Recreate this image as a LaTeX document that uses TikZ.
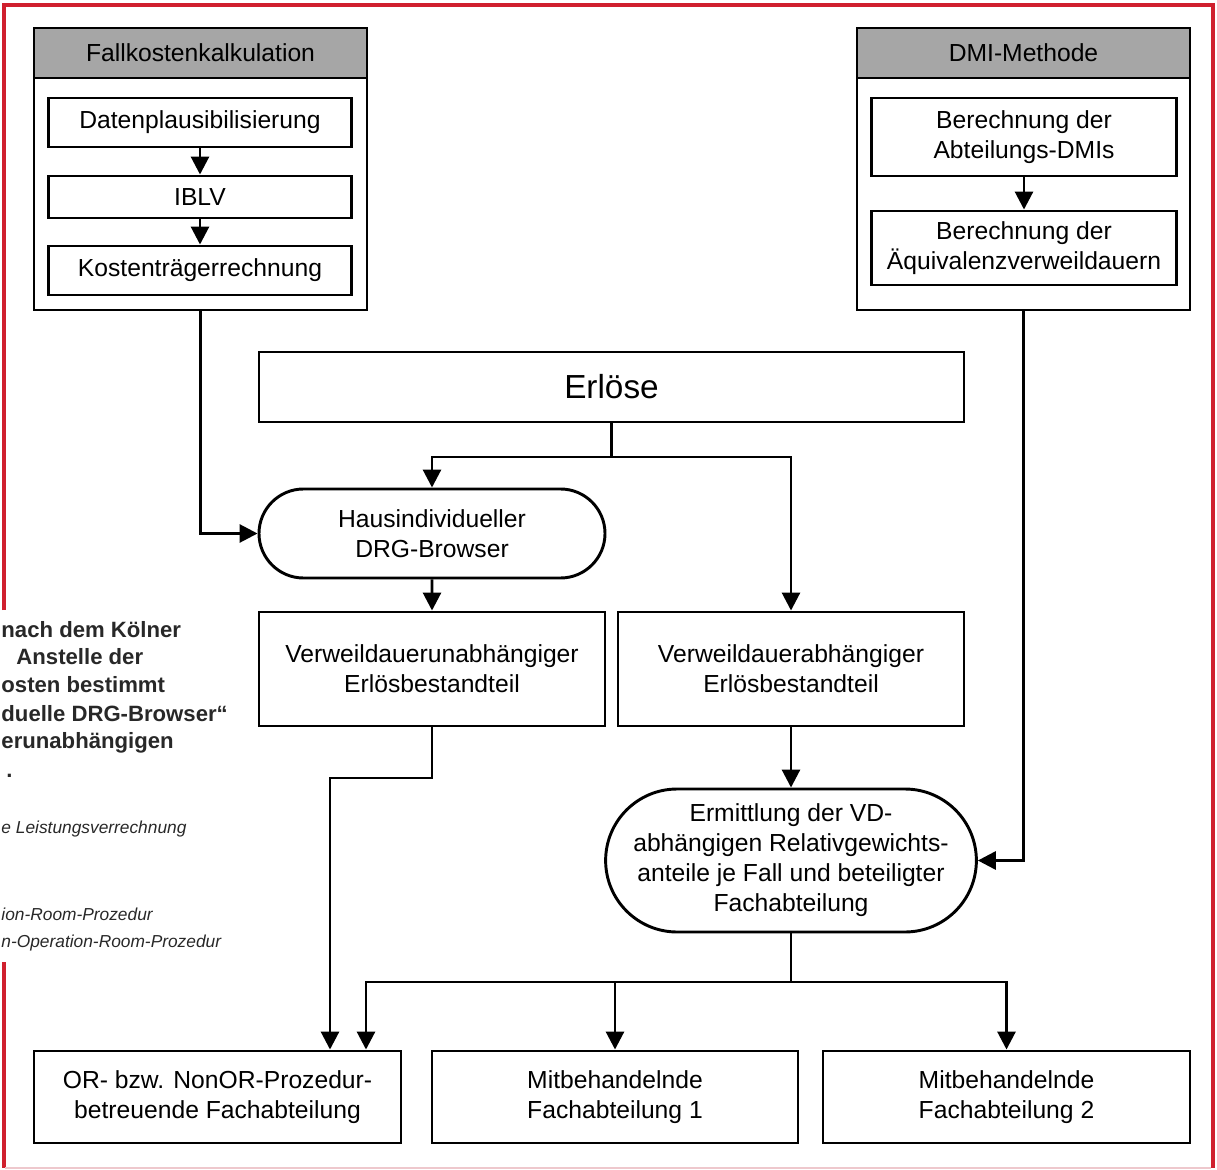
\documentclass[tikz,border=0pt]{standalone}
\usepackage{fontspec}
\setmainfont{Liberation Sans}
\usepackage{tikz}
\usetikzlibrary{arrows.meta, shapes.misc}
\usepackage{xcolor}
\definecolor{framered}{RGB}{208,32,46}
\definecolor{framepink}{RGB}{238,200,205}
\definecolor{headgray}{RGB}{166,166,166}
\definecolor{overtext}{RGB}{40,40,40}

\begin{document}
\begin{tikzpicture}[x=0.75pt,y=0.75pt,yscale=-1,xscale=1,
  line width=2.2pt,
  box/.style={draw, rectangle, inner sep=0pt, align=center, font=\fontsize{18.5}{22.5}\selectfont},
  headbox/.style={box, fill=headgray},
  pill/.style={draw, rounded rectangle, inner sep=0pt, align=center, font=\fontsize{18.5}{22.5}\selectfont},
  arr/.style={-{Triangle[width=13.5pt,length=13.5pt]}},
  boldline/.style={anchor=base west, inner sep=0pt, text=overtext, font=\fontsize{16.6}{20}\selectfont\bfseries},
  itline/.style={anchor=base west, inner sep=0pt, text=overtext, font=\fontsize{13}{16}\selectfont\itshape}]
%set diagram left start at 0, and has height of 1170
\useasboundingbox (0,0) rectangle (1217,1170);

%Shape: Frame
\draw[framered, line width=3pt] (4,610) -- (4,5) -- (1212.5,5) -- (1212.5,1168);
\draw[framered, line width=3pt] (4,962) -- (4,1168);
\draw[framepink, line width=1pt] (5,1168) -- (1211,1168);

% Text Node (text of the page behind)
\node[boldline] (ov1) at (0,637) {nach dem Kölner};
\node[boldline] (ov2) at (15,664) {Anstelle der};
\node[boldline] (ov3) at (0,692) {osten bestimmt};
\node[boldline] (ov4) at (0,721) {duelle DRG-Browser“};
\node[boldline] (ov5) at (0,748) {erunabhängigen};
\node[boldline] (ov6) at (5,777) {.};
\node[itline] (ov7) at (0,833) {e Leistungsverrechnung};
\node[itline] (ov8) at (0,920) {ion-Room-Prozedur};
\node[itline] (ov9) at (0,947) {n-Operation-Room-Prozedur};

%Shape: Fallkostenkalkulation
\node[box, minimum width=249.75pt, minimum height=211.5pt] (fk) at (200.5,169) {};
\node[headbox, minimum width=249.75pt, minimum height=37.5pt] (fkhead) at (200.5,53) {Fallkostenkalkulation};
\node[box, minimum width=227.25pt, minimum height=36.75pt] (datpl) at (200,122.5) {Datenplausibilisierung};
\node[box, minimum width=227.25pt, minimum height=31.5pt] (iblv) at (200,197) {IBLV};
\node[box, minimum width=227.25pt, minimum height=36.75pt] (ktr) at (200,270.5) {Kostenträgerrechnung};

%Shape: DMI-Methode
\node[box, minimum width=249.75pt, minimum height=211.5pt] (dmi) at (1023.5,169) {};
\node[headbox, minimum width=249.75pt, minimum height=37.5pt] (dmihead) at (1023.5,53) {DMI-Methode};
\node[box, minimum width=228.75pt, minimum height=58.5pt] (abtdmi) at (1024,137) {Berechnung der\\Abteilungs-DMIs};
\node[box, minimum width=228.75pt, minimum height=55.5pt] (aeqvd) at (1024,248) {Berechnung der\\Äquivalenzverweildauern};

%Shape: middle part
\node[box, minimum width=528.75pt, minimum height=52.5pt, font=\fontsize{25}{30}\selectfont] (erl) at (611.5,387) {Erlöse};
\node[pill, minimum width=259.5pt, minimum height=66.75pt] (drgb) at (432,533.5) {Hausindividueller\\DRG-Browser};
\node[box, minimum width=259.5pt, minimum height=85.5pt] (vdu) at (432,669) {Verweildauerunabhängiger\\Erlösbestandteil};
\node[box, minimum width=259.5pt, minimum height=85.5pt] (vda) at (791,669) {Verweildauerabhängiger\\Erlösbestandteil};
\node[pill, minimum width=258.75pt, minimum height=107.25pt] (rgant) at (791,860.5) {Ermittlung der VD-\\abhängigen Relativgewichts-\\anteile je Fall und beteiligter\\Fachabteilung};

%Shape: Fachabteilungen
\node[box, minimum width=275.25pt, minimum height=69pt] (orfa) at (217.5,1097) {OR- bzw. NonOR-Prozedur-\\betreuende Fachabteilung};
\node[box, minimum width=274.5pt, minimum height=69pt] (mfa1) at (615,1097) {Mitbehandelnde\\Fachabteilung 1};
\node[box, minimum width=275.25pt, minimum height=69pt] (mfa2) at (1006.5,1097) {Mitbehandelnde\\Fachabteilung 2};

\coordinate (erlsplit) at (611.5,457);
\coordinate (vdubend) at (330,778);
\coordinate (fasplit) at (791,982);
\coordinate (orbend) at (366,982);

%Straight Lines
\draw[arr] (datpl) -- (iblv);
\draw[arr] (iblv) -- (ktr);
\draw[arr] (abtdmi) -- (aeqvd);
\draw[arr] (fk.south) |- (drgb.west);
\draw (erl.south) -- (erlsplit);
\draw[arr] (erlsplit) -| (drgb.north);
\draw[arr] (erlsplit) -| (vda.north);
\draw[arr] (drgb) -- (vdu);
\draw[arr] (vdu.south) |- (vdubend) -- (vdubend |- orfa.north);
\draw[arr] (vda.south) -- (rgant.north);
\draw[arr] (dmi.south) |- (rgant.east);
\draw (rgant.south) -- (fasplit);
\draw[arr] (fasplit) -- (orbend) -- (orbend |- orfa.north);
\draw[arr] (fasplit -| mfa1.north) -- (mfa1.north);
\draw[arr] (fasplit) -| (mfa2.north);

\end{tikzpicture}
\end{document}
